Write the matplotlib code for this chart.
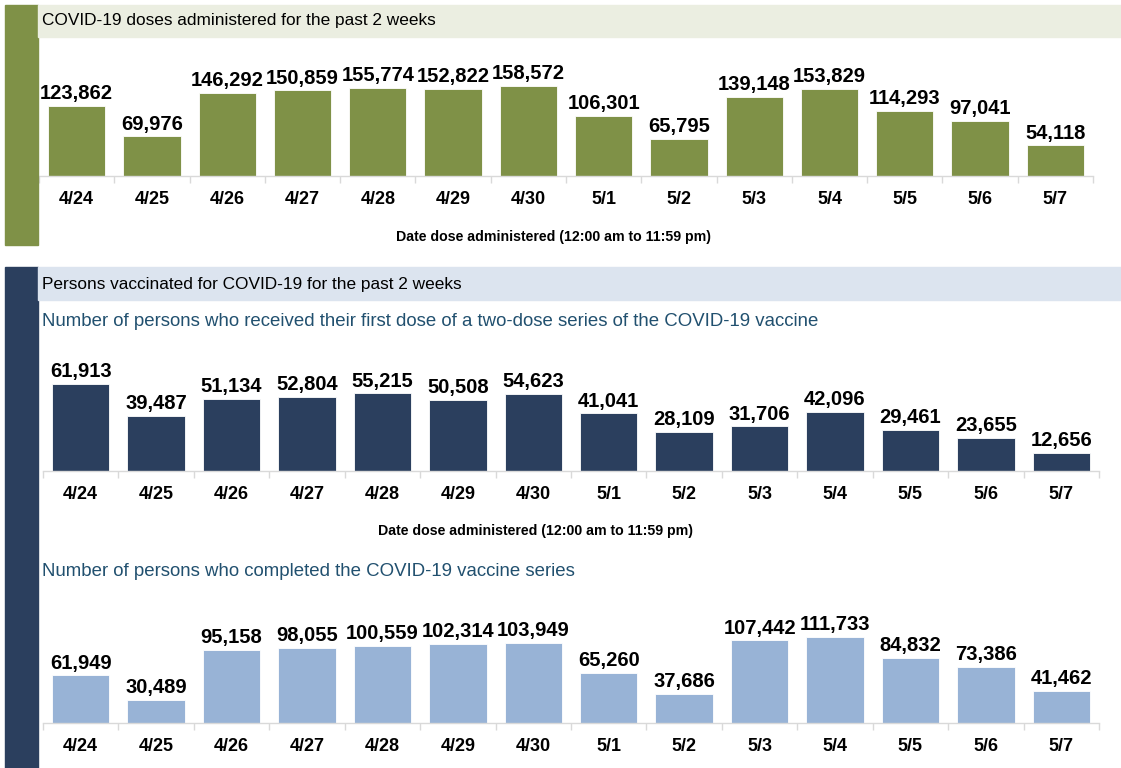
import matplotlib
matplotlib.use("Agg")
import matplotlib.pyplot as plt
from matplotlib.patches import Rectangle

# data
dates = ["4/24", "4/25", "4/26", "4/27", "4/28", "4/29", "4/30",
         "5/1", "5/2", "5/3", "5/4", "5/5", "5/6", "5/7"]
doses = [123862, 69976, 146292, 150859, 155774, 152822, 158572,
         106301, 65795, 139148, 153829, 114293, 97041, 54118]
first_dose = [61913, 39487, 51134, 52804, 55215, 50508, 54623,
              41041, 28109, 31706, 42096, 29461, 23655, 12656]
completed = [61949, 30489, 95158, 98055, 100559, 102314, 103949,
             65260, 37686, 107442, 111733, 84832, 73386, 41462]

header1 = "COVID-19 doses administered for the past 2 weeks"
header2 = "Persons vaccinated for COVID-19 for the past 2 weeks"
sub1 = "Number of persons who received their first dose of a two-dose series of the COVID-19 vaccine"
sub2 = "Number of persons who completed the COVID-19 vaccine series"
xtitle = "Date dose administered (12:00 am to 11:59 pm)"

W, H = 1121, 768
fig = plt.figure(figsize=(W / 100, H / 100), dpi=100)
fig.patch.set_facecolor("white")

GREEN = "#7f9147"
NAVY = "#2b3f5e"
LIGHTBLUE = "#98b3d6"
SUBCOL = "#21506f"
SANS = ["Liberation Sans", "DejaVu Sans"]


def rect(x0, y0, x1, y1, color):
    # pixel coords, y from the top
    fig.patches.append(Rectangle((x0 / W, 1 - y1 / H), (x1 - x0) / W, (y1 - y0) / H,
                                 transform=fig.transFigure, color=color, zorder=0))


def ftext(x, y, s, **kw):
    fig.text(x / W, 1 - y / H, s, **kw)


# side strips and header bands
rect(5, 5, 38, 245, GREEN)
rect(5, 267, 38, 768, NAVY)
rect(38, 5, 1121, 37, "#ebeee1")
rect(38, 267, 1121, 300, "#dce4ef")

ftext(42, 21, header1, fontsize=12.4, family=SANS, va="center")
ftext(42, 284, header2, fontsize=12.4, family=SANS, va="center")
ftext(42, 321, sub1, fontsize=13.4, family=SANS, va="center", color=SUBCOL)
ftext(42, 572, sub2, fontsize=13.4, family=SANS, va="center", color=SUBCOL)
ftext(554, 237, xtitle, fontsize=10.2, family=SANS, weight="bold", va="center", ha="center")
ftext(536, 531, xtitle, fontsize=10.2, family=SANS, weight="bold", va="center", ha="center")


def bar_panel(left, right, base, top, maxpx, values, color):
    ax = fig.add_axes([left / W, 1 - base / H, (right - left) / W, (base - top) / H])
    x = list(range(len(values)))
    ax.bar(x, values, width=0.76, color=color, edgecolor="white", linewidth=0.6)
    ax.set_xlim(-0.5, len(values) - 0.5)
    ax.set_ylim(0, max(values) * (base - top) / maxpx)
    for xi, v in zip(x, values):
        ax.annotate(f"{v:,}", (xi, v), xytext=(0, 2), textcoords="offset points",
                    ha="center", va="bottom", fontsize=14.5, weight="bold", family=SANS)
    ax.set_xticks(x)
    ax.set_xticklabels(dates, fontsize=13, weight="bold", family=SANS)
    ax.tick_params(axis="x", which="major", length=0, pad=11)
    ax.set_xticks([i - 0.5 for i in range(len(values) + 1)], minor=True)
    ax.tick_params(axis="x", which="minor", length=5, color="#d9d9d9", width=1)
    ax.set_yticks([])
    for s in ["top", "right", "left"]:
        ax.spines[s].set_visible(False)
    ax.spines["bottom"].set_color("#d9d9d9")
    ax.spines["bottom"].set_linewidth(1)
    ax.patch.set_alpha(0)
    return ax


bar_panel(39, 1093, 176, 45, 90, doses, GREEN)
bar_panel(43, 1099, 471, 340, 87, first_dose, NAVY)
bar_panel(43, 1099, 723, 590, 86, completed, LIGHTBLUE)

fig.savefig("out.png", dpi=100)
